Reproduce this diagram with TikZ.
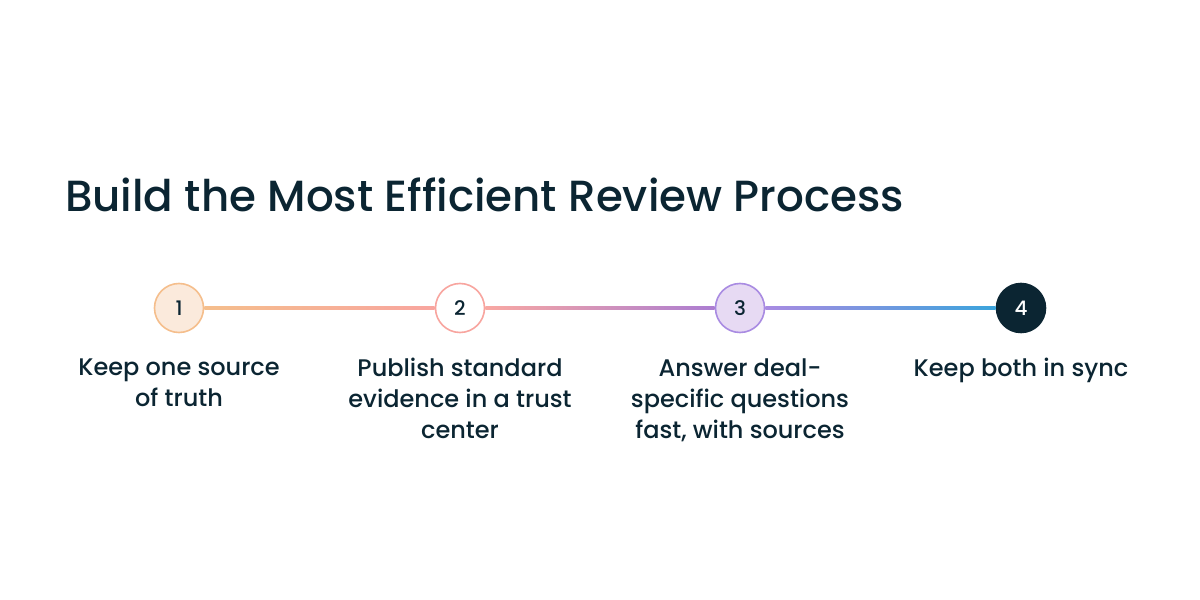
\documentclass[tikz,border=0pt]{standalone}
\usepackage{fontspec}
\setmainfont{Poppins}
\newfontfamily\medfont{Poppins Medium}
\usepackage{xcolor}
\usepackage{tikz}
\usetikzlibrary{positioning,calc}

\definecolor{ink}{HTML}{0B2532}
\definecolor{peach}{HTML}{FBEADC}
\definecolor{peachline}{HTML}{F5BE8C}
\definecolor{roseline}{HTML}{F8A59F}
\definecolor{lilac}{HTML}{E7DAF3}
\definecolor{lilacline}{HTML}{A98BE2}
\definecolor{skyline}{HTML}{3AA4DC}

\tikzset{
	stepdot/.style={circle,minimum size=49pt,inner sep=0pt,line width=1.6pt,
		text=ink,font=\medfont\fontsize{20}{20}\selectfont},
	steplabel/.style={align=center,inner sep=0pt,text=ink,
		font=\medfont\fontsize{24}{31}\selectfont,below=25pt of #1},
}

\begin{document}
\begin{tikzpicture}[x=1pt,y=1pt]
		\useasboundingbox[fill=white] (0,0) rectangle (1200,600);
		\node[anchor=base west,inner sep=0pt,text=ink,font=\medfont\fontsize{43.6}{52}\selectfont] (title) at (65,388) {Build the Most Efficient Review Process};
		\node[stepdot,fill=peach,draw=peachline] (s1) at (179,292) {1};
		\node[stepdot,fill=white,draw=roseline] (s2) at (460,292) {2};
		\node[stepdot,fill=lilac,draw=lilacline] (s3) at (740,292) {3};
		\node[stepdot,fill=ink,draw=ink,text=white] (s4) at (1021,292) {4};
		\shade[left color=peachline,right color=roseline] ($(s1.east)+(0,-1.5)$) rectangle ($(s2.west)+(0,1.5)$);
		\shade[left color=roseline!90!pink,right color=lilacline!90!purple] ($(s2.east)+(0,-1.5)$) rectangle ($(s3.west)+(0,1.5)$);
		\shade[left color=lilacline,right color=skyline] ($(s3.east)+(0,-1.5)$) rectangle ($(s4.west)+(0,1.5)$);
		\node[steplabel=s1] (t1) {Keep one source\\of truth};
		\node[steplabel=s2] (t2) {Publish standard\\evidence in a trust\\center};
		\node[steplabel=s3] (t3) {Answer deal-\\specific questions\\fast, with sources};
		\node[steplabel=s4] (t4) {Keep both in sync};
	\end{tikzpicture}
\end{document}
